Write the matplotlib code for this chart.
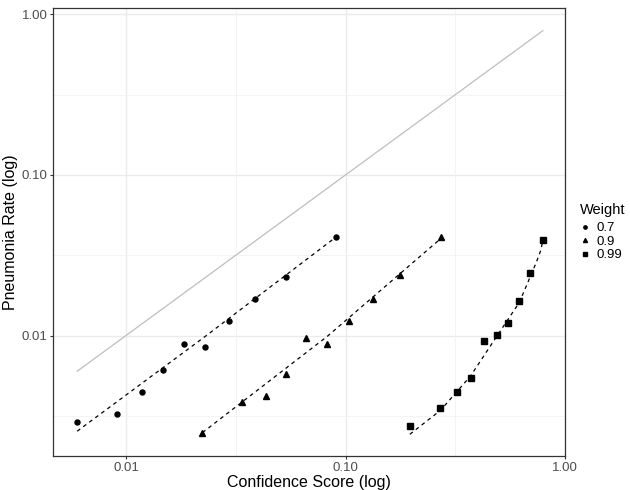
import numpy as np
import matplotlib.pyplot as plt
from matplotlib.ticker import FixedLocator, NullFormatter
from matplotlib.lines import Line2D

plt.rcParams['font.family'] = ['Liberation Sans', 'DejaVu Sans']

# observed points per weight
conf_07 = [0.0060, 0.0091, 0.0118, 0.0147, 0.0183, 0.0230, 0.0296, 0.0387, 0.0537, 0.0903]
rate_07 = [0.00291, 0.00327, 0.00443, 0.00612, 0.00888, 0.00846, 0.01233, 0.0169, 0.0233, 0.0412]

conf_09 = [0.0223, 0.0337, 0.0432, 0.0535, 0.0663, 0.0826, 0.1035, 0.1327, 0.176, 0.273]
rate_09 = [0.00249, 0.00384, 0.00418, 0.00573, 0.00968, 0.00892, 0.01234, 0.0169, 0.0237, 0.0410]

conf_099 = [0.1954, 0.2703, 0.3228, 0.3737, 0.4283, 0.4907, 0.5507, 0.6178, 0.6934, 0.7918]
rate_099 = [0.00272, 0.00354, 0.00445, 0.00543, 0.00922, 0.01004, 0.01192, 0.01633, 0.02438, 0.0394]

# dashed reference curves
curve_07_x = [0.0060, 0.0230, 0.0903]
curve_07_y = [0.00254, 0.0099, 0.0410]
curve_09_x = [0.0223, 0.0826, 0.273]
curve_09_y = [0.00249, 0.0099, 0.0405]
curve_099_x = [0.196, 0.270, 0.370, 0.491, 0.618, 0.693, 0.736, 0.770, 0.792]
curve_099_y = [0.00243, 0.00342, 0.00559, 0.01004, 0.0161, 0.0233, 0.0283, 0.0334, 0.0391]

# identity line
ident = [0.006, 0.79]

weights = ['0.7', '0.9', '0.99']

fig = plt.figure(figsize=(6.3, 4.9), dpi=100)
ax = fig.add_axes([0.0846, 0.0694, 0.8127, 0.9143])
ax.set_xscale('log')
ax.set_yscale('log')
ax.set_xlim(0.00467, 1.0)
ax.set_ylim(0.00178, 1.094)

# grid
major = [0.01, 0.1, 1.0]
minor_x = [10**-1.5, 10**-0.5]
minor_y = [10**-2.5, 10**-1.5, 10**-0.5]
for v in major:
    ax.axvline(v, color='#EBEBEB', lw=1.0, zorder=0)
    ax.axhline(v, color='#EBEBEB', lw=1.0, zorder=0)
for v in minor_x:
    ax.axvline(v, color='#F2F2F2', lw=0.6, zorder=0)
for v in minor_y:
    ax.axhline(v, color='#F2F2F2', lw=0.6, zorder=0)

ax.plot(ident, ident, color='#BEBEBE', lw=0.9, zorder=1)

for cx, cy in [(curve_07_x, curve_07_y), (curve_09_x, curve_09_y), (curve_099_x, curve_099_y)]:
    ax.plot(cx, cy, color='black', lw=0.9, dashes=(3, 3), zorder=2)

ax.plot(conf_07, rate_07, 'o', color='black', ms=3.6, ls='none', zorder=3)
ax.plot(conf_09, rate_09, '^', color='black', ms=4.4, ls='none', zorder=3)
ax.plot(conf_099, rate_099, 's', color='black', ms=3.7, ls='none', zorder=3)

ax.xaxis.set_major_locator(FixedLocator(major))
ax.yaxis.set_major_locator(FixedLocator(major))
ax.xaxis.set_minor_locator(FixedLocator([]))
ax.yaxis.set_minor_locator(FixedLocator([]))
ax.xaxis.set_minor_formatter(NullFormatter())
ax.yaxis.set_minor_formatter(NullFormatter())
ax.set_xticklabels(['0.01', '0.10', '1.00'])
ax.set_yticklabels(['0.01', '0.10', '1.00'])
ax.tick_params(axis='both', length=2.5, width=0.8, color='#333333', labelcolor='#4D4D4D',
               labelsize=9.5, pad=1.5)

for s in ax.spines.values():
    s.set_color('#333333')
    s.set_linewidth(0.9)

ax.set_xlabel('Confidence Score (log)', fontsize=11.5, labelpad=1)
ax.set_ylabel('Pneumonia Rate (log)', fontsize=11.5, labelpad=3)

# legend
handles = [Line2D([], [], marker=m, color='black', ls='none', ms=s)
           for m, s in zip(['o', '^', 's'], [2.4, 2.9, 2.4])]
fig.text(580 / 630, 1 - 210 / 490, 'Weight', fontsize=10.5, va='center', ha='left')
leg = fig.legend(handles, weights, loc='upper left',
                 bbox_to_anchor=(579 / 630, 1 - 222 / 490),
                 frameon=False, fontsize=9.5, handlelength=0.9, handletextpad=0.45,
                 labelspacing=0.1, borderaxespad=0, borderpad=0)

fig.savefig('out.png', dpi=100)
